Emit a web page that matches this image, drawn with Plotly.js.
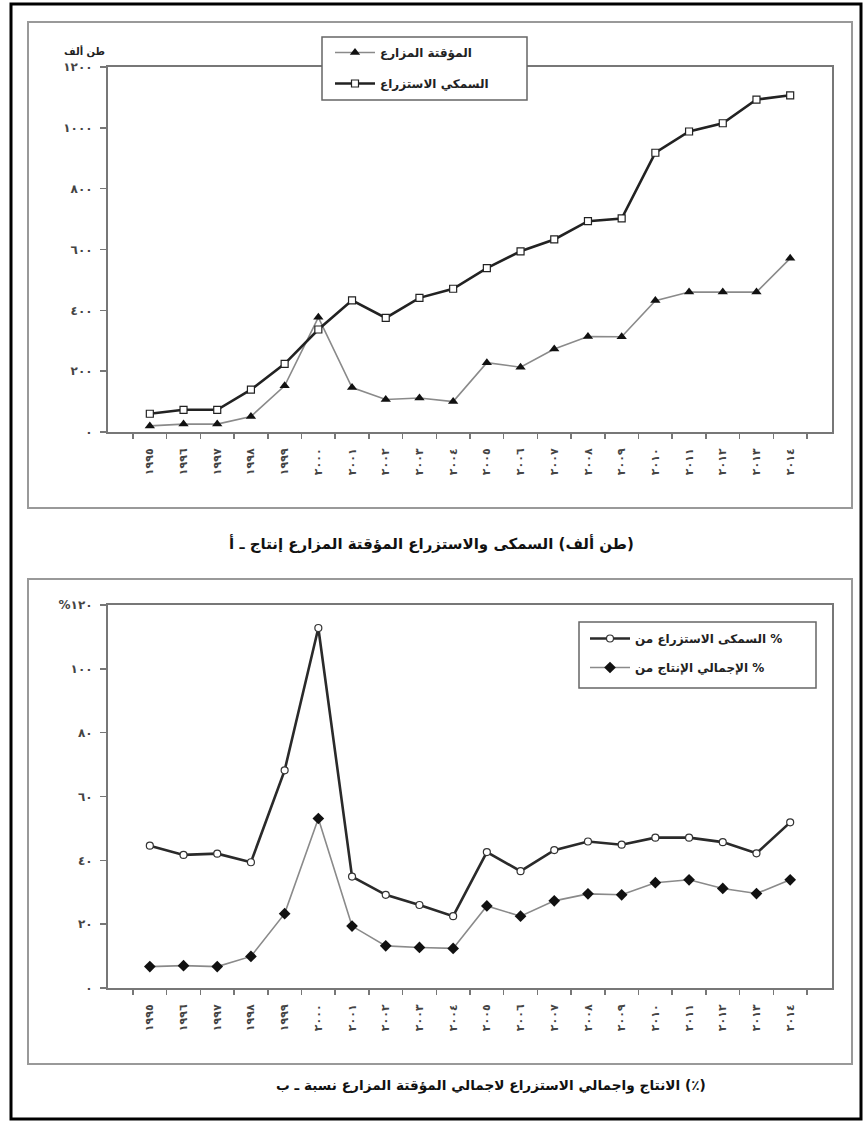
<!DOCTYPE html>
<html>
<head>
<meta charset="utf-8">
<script src="https://cdn.plot.ly/plotly-3.0.1.min.js"></script>
<style>html,body{margin:0;padding:0;background:#fff;}#chart{width:867px;height:1124px;}</style>
</head>
<body>
<div id="chart"></div>
<script>
// Categories (years 1995-2014 in Arabic-Indic digits)
const years = ["١٩٩٥","١٩٩٦","١٩٩٧","١٩٩٨","١٩٩٩","٢٠٠٠","٢٠٠١","٢٠٠٢","٢٠٠٣","٢٠٠٤","٢٠٠٥","٢٠٠٦","٢٠٠٧","٢٠٠٨","٢٠٠٩","٢٠١٠","٢٠١١","٢٠١٢","٢٠١٣","٢٠١٤"];

// Panel A: production (thousand tons)
const tempFarms = [20, 26, 26, 51, 152, 377, 146, 107, 112, 100, 228, 213, 273, 314, 313, 432, 460, 460, 460, 571];
const aquaculture = [60, 73, 73, 139, 224, 337, 433, 375, 441, 471, 539, 594, 633, 693, 702, 918, 988, 1015, 1093, 1107];

// Panel B: share (%)
const pctAquaculture = [44.6, 41.7, 42.1, 39.4, 68.2, 112.8, 34.9, 29.2, 26, 22.5, 42.6, 36.6, 43.2, 45.9, 44.9, 47.1, 47.1, 45.7, 42.2, 51.9];
const pctTotal = [6.7, 7, 6.7, 9.9, 23.3, 53.1, 19.4, 13.2, 12.7, 12.4, 25.7, 22.5, 27.3, 29.5, 29.2, 33, 33.9, 31.2, 29.6, 33.9];

// Tick labels
const yTicksA = [0, 200, 400, 600, 800, 1000, 1200];
const yTextA = ["٠", "٢٠٠", "٤٠٠", "٦٠٠", "٨٠٠", "١٠٠٠", "١٢٠٠"];
const yTicksB = [0, 20, 40, 60, 80, 100, 120];
const yTextB = ["٠", "٢٠", "٤٠", "٦٠", "٨٠", "١٠٠", "%١٢٠"];

// Texts
const nameTemp = "المزارع المؤقتة";
const nameAqua = "الاستزراع السمكي";
const namePctAqua = "من الاستزراع السمكى %";
const namePctTotal = "من الإنتاج الإجمالي %";
const unitA = "ألف طن";
const titleA = "أ ـ إنتاج المزارع المؤقتة والاستزراع السمكى (ألف طن)";
const titleB = "ب ـ نسبة المزارع المؤقتة لاجمالي الاستزراع واجمالي الانتاج (٪)";

// The source figure shows the words in left-to-right order; keep that look
const vis = s => "\u200E" + s.split(" ").join(" \u200E");

const W = 867, H = 1124;
const px = x => x / W;
const py = y => 1 - y / H;
const FONT = "DejaVu Sans";

const traces = [
  {x: years, y: tempFarms, name: vis(nameTemp), type: "scatter", mode: "lines+markers",
   xaxis: "x", yaxis: "y", legend: "legend", legendgroup: "a1",
   line: {color: "#8a8a8a", width: 1.6},
   marker: {symbol: "triangle-up", size: 9, color: "#111"}},
  {x: years, y: aquaculture, name: vis(nameAqua), type: "scatter", mode: "lines+markers",
   xaxis: "x", yaxis: "y", legend: "legend", legendgroup: "a2",
   line: {color: "#222", width: 2.6},
   marker: {symbol: "square", size: 7, color: "#fff", line: {color: "#222", width: 1.2}}},
  {x: years, y: pctAquaculture, name: vis(namePctAqua), type: "scatter", mode: "lines+markers",
   xaxis: "x2", yaxis: "y2", legend: "legend2", legendgroup: "b1",
   line: {color: "#2a2a2a", width: 2.6},
   marker: {symbol: "circle", size: 7, color: "#fff", line: {color: "#333", width: 1.2}}},
  {x: years, y: pctTotal, name: vis(namePctTotal), type: "scatter", mode: "lines+markers",
   xaxis: "x2", yaxis: "y2", legend: "legend2", legendgroup: "b2",
   line: {color: "#8a8a8a", width: 1.6},
   marker: {symbol: "diamond", size: 9, color: "#111"}}
];

const tickFont = {family: FONT, size: 11, color: "#444", weight: "bold"};
const xCommon = {
  type: "category", tickson: "boundaries", ticks: "outside", ticklen: 5,
  tickcolor: "#777", tickwidth: 1.5, tickangle: -90, tickfont: tickFont,
  ticklabelstandoff: 10,
  showline: true, mirror: true, linecolor: "#777", linewidth: 2,
  showgrid: false, zeroline: false, fixedrange: true,
  domain: [px(108), px(832)]
};
const yCommon = {
  ticks: "outside", ticklen: 6, tickcolor: "#777", tickwidth: 1.5,
  tickfont: {family: FONT, size: 12, color: "#444", weight: "bold"},
  showline: true, mirror: true, linecolor: "#777", linewidth: 2,
  showgrid: false, zeroline: false, fixedrange: true, ticklabelstandoff: 5
};
const legFont = {family: FONT, size: 12, color: "#222", weight: "bold"};

const layout = {
  width: W, height: H,
  margin: {l: 0, r: 0, t: 0, b: 0},
  paper_bgcolor: "#fff", plot_bgcolor: "#fff",
  font: {family: FONT},
  xaxis: Object.assign({}, xCommon, {anchor: "y"}),
  yaxis: Object.assign({}, yCommon, {anchor: "x", range: [0, 1200], tickvals: yTicksA, ticktext: yTextA,
    domain: [py(432), py(67)]}),
  xaxis2: Object.assign({}, xCommon, {anchor: "y2"}),
  yaxis2: Object.assign({}, yCommon, {anchor: "x2", range: [0, 120], tickvals: yTicksB, ticktext: yTextB,
    domain: [py(988), py(605)]}),
  legend: {x: px(330), y: py(38), xanchor: "left", yanchor: "top",
    bgcolor: "rgba(0,0,0,0)", borderwidth: 0, font: legFont, tracegroupgap: 12, itemwidth: 40},
  legend2: {x: px(585), y: py(624), xanchor: "left", yanchor: "top",
    bgcolor: "rgba(0,0,0,0)", borderwidth: 0, font: legFont, tracegroupgap: 10, itemwidth: 40},
  showlegend: true,
  shapes: [
    {type: "rect", xref: "paper", yref: "paper", x0: px(11), x1: px(861), y0: py(1119), y1: py(4),
     line: {color: "#000", width: 3}},
    {type: "rect", xref: "paper", yref: "paper", x0: px(28), x1: px(852), y0: py(508), y1: py(22),
     line: {color: "#999", width: 2}},
    {type: "rect", xref: "paper", yref: "paper", x0: px(28), x1: px(852), y0: py(1064), y1: py(579),
     line: {color: "#999", width: 2}},
    {type: "rect", xref: "paper", yref: "paper", layer: "above", x0: px(322), x1: px(527), y0: py(100), y1: py(37),
     fillcolor: "#fff", line: {color: "#666", width: 1.5}},
    {type: "rect", xref: "paper", yref: "paper", layer: "above", x0: px(579), x1: px(816), y0: py(688), y1: py(622),
     fillcolor: "#fff", line: {color: "#666", width: 1.5}}
  ],
  annotations: [
    {xref: "paper", yref: "paper", x: px(62), y: py(43), text: vis(unitA), showarrow: false,
     font: {family: FONT, size: 10, color: "#222", weight: "bold"}},
    {xref: "paper", yref: "paper", x: px(431), y: py(543), text: vis(titleA), showarrow: false,
     font: {family: FONT, size: 15, color: "#111", weight: "bold"}},
    {xref: "paper", yref: "paper", x: px(491), y: py(1096), text: vis(titleB), showarrow: false,
     font: {family: FONT, size: 13.7, color: "#111", weight: "bold"}}
  ]
};

Plotly.newPlot("chart", traces, layout, {displayModeBar: false, staticPlot: true});
</script>
</body>
</html>
